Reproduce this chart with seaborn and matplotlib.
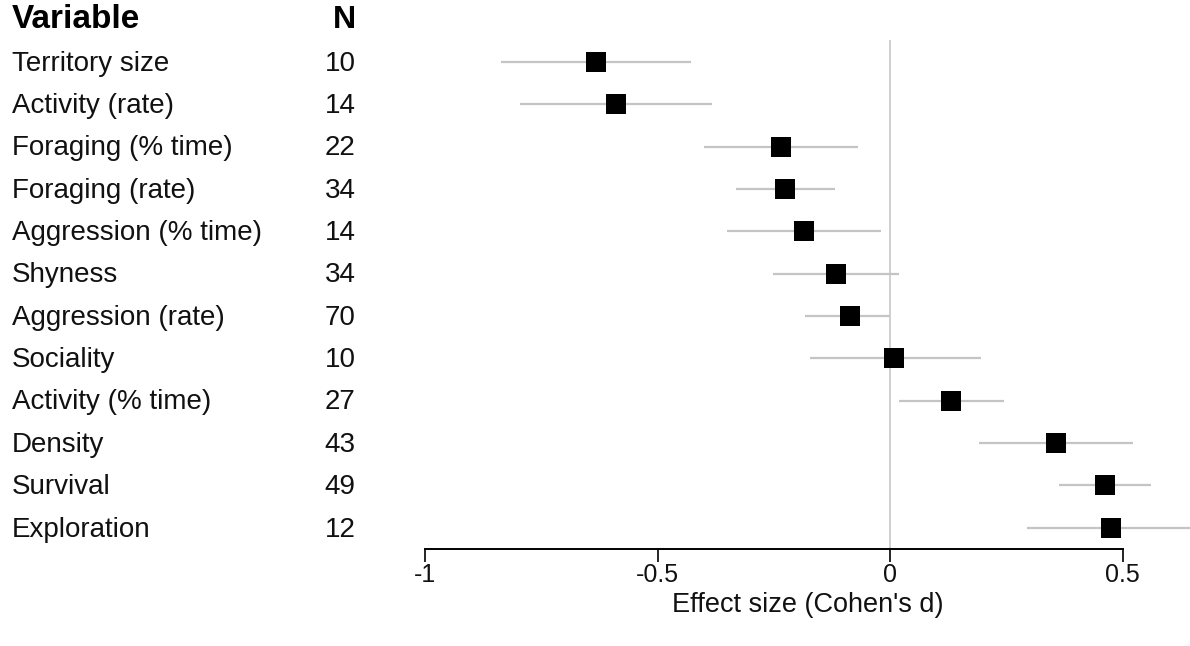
import matplotlib
matplotlib.use("Agg")
import matplotlib.pyplot as plt
import matplotlib.transforms as mtransforms
import seaborn as sns
import pandas as pd
import numpy as np

variables = ["Territory size", "Activity (rate)", "Foraging (% time)", "Foraging (rate)",
             "Aggression (% time)", "Shyness", "Aggression (rate)", "Sociality",
             "Activity (% time)", "Density", "Survival", "Exploration"]
n_values = [10, 14, 22, 34, 14, 34, 70, 10, 27, 43, 49, 12]
effect = [-0.632, -0.589, -0.235, -0.225, -0.186, -0.117, -0.085, 0.009, 0.132, 0.357, 0.462, 0.475]
ci_low = [-0.837, -0.796, -0.400, -0.331, -0.351, -0.252, -0.183, -0.172, 0.020, 0.191, 0.364, 0.295]
ci_high = [-0.428, -0.383, -0.069, -0.118, -0.020, 0.019, 0.000, 0.195, 0.245, 0.523, 0.561, 0.68]
x_ticks = [-1, -0.5, 0, 0.5]
x_tick_labels = ["-1", "-0.5", "0", "0.5"]

df = pd.DataFrame({"variable": variables, "n": n_values, "d": effect,
                   "lo": ci_low, "hi": ci_high})
df["row"] = np.arange(len(df))

sns.set_theme(style="white")
plt.rcParams["font.family"] = ["Liberation Sans", "DejaVu Sans"]

W, H = 1190, 646
fig = plt.figure(figsize=(W / 100, H / 100), dpi=100)
ax = fig.add_axes([425 / W, 1 - 549 / H, (W - 425) / W, (549 - 40) / H])

ax.axvline(0, color="#d0d0d0", lw=1.4, zorder=1)
ax.hlines(df["row"], df["lo"], df["hi"], color="#c4c4c4", lw=1.6, zorder=2)
sns.scatterplot(data=df, x="d", y="row", marker="s", s=210, color="black",
                edgecolor="black", linewidth=0, ax=ax, zorder=3, legend=False)

ax.set_xlim(-1, (W - 890) / 465)
ax.set_ylim(len(df) - 0.5, -0.52)
for side in ["top", "right", "left"]:
    ax.spines[side].set_visible(False)
ax.spines["bottom"].set_color("black")
ax.spines["bottom"].set_linewidth(1.4)
ax.spines["bottom"].set_bounds(-1, 0.5)
ax.set_yticks([])
ax.set_xticks(x_ticks)
ax.set_xticklabels(x_tick_labels, fontsize=18)
ax.tick_params(axis="x", bottom=True, length=9.5, width=1.2, color="black",
               pad=0.5, labelcolor="#111111")
ax.set_xlabel("Effect size (Cohen's d)", fontsize=19.5, labelpad=3.5, color="#111111")
ax.set_ylabel("")

trans = mtransforms.blended_transform_factory(fig.transFigure, ax.transData)
for _, r in df.iterrows():
    ax.text(12 / W, r["row"] + 0.04, r["variable"], transform=trans, ha="left",
            va="center", fontsize=20, color="#111111", clip_on=False)
    ax.text(340 / W, r["row"] + 0.04, str(r["n"]), transform=trans, ha="center",
            va="center", fontsize=20, color="#111111", clip_on=False)
fig.text(12 / W, 1 - 20 / H, "Variable", ha="left", va="center", fontsize=24,
         fontweight="bold", color="black")
fig.text(344 / W, 1 - 20 / H, "N", ha="center", va="center", fontsize=23,
         fontweight="bold", color="black")

fig.savefig("out.png", dpi=100)
